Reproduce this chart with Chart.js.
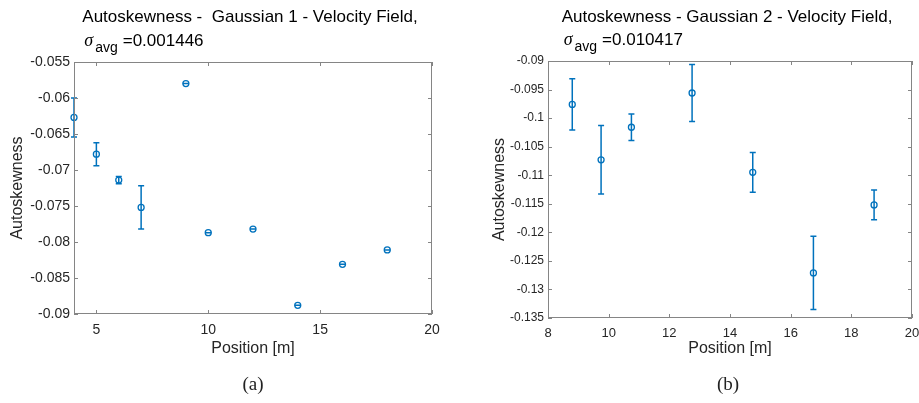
<!DOCTYPE html>
<html>
<head>
<meta charset="utf-8">
<script src="https://cdn.jsdelivr.net/npm/chart.js@4.4.1/dist/chart.umd.min.js"></script>
<style>
    body { margin: 0; background: #fff; width: 919px; height: 403px; position: relative; overflow: hidden; }
    .wrap { position: absolute; top: 0; height: 403px; }
    #wrapA { left: 0; width: 460px; }
    #wrapB { left: 460px; width: 459px; }
    .sub { position: absolute; top: 373px; font: 19px 'Liberation Serif', serif; color: #222; transform: translateX(-50%); }
</style>
</head>
<body>
<div class="wrap" id="wrapA"><canvas id="chartA" width="460" height="403"></canvas></div>
<div class="wrap" id="wrapB"><canvas id="chartB" width="459" height="403"></canvas></div>
<div class="sub" style="left:253px">(a)</div>
<div class="sub" style="left:728px">(b)</div>
<script>
// Данные для графика (a) - Gaussian 1
const posA = [4, 5, 6, 7, 9, 10, 12, 14, 16, 18];
const skewA = [-0.0627, -0.0678, -0.0714, -0.0752, -0.0580, -0.0787, -0.0782, -0.0888, -0.0831, -0.0811];
const errA = [0.0027, 0.0016, 0.0005, 0.0030, 0, 0, 0, 0, 0, 0];
const xTicksA = [5, 10, 15, 20];
const yTicksA = [-0.09, -0.085, -0.08, -0.075, -0.07, -0.065, -0.06, -0.055];

// Данные для графика (b) - Gaussian 2
const posB = [8.8, 9.75, 10.75, 12.75, 14.75, 16.75, 18.75];
const skewB = [-0.0976, -0.1073, -0.1016, -0.0956, -0.1095, -0.1271, -0.1152];
const errB = [0.0045, 0.0060, 0.0023, 0.0050, 0.0035, 0.0064, 0.0026];
const xTicksB = [8, 10, 12, 14, 16, 18, 20];
const yTicksB = [-0.135, -0.13, -0.125, -0.12, -0.115, -0.11, -0.105, -0.1, -0.095, -0.09];

const SANS = '"Liberation Sans", Arial, Helvetica, sans-serif';
const BLUE = '#0072BD';
const TXT = '#262626';

// Заголовок в стиле MATLAB: две строки, sigma с индексом
const matTitle = {
    id: 'matTitle',
    afterDraw(chart, args, o) {
        const ctx = chart.ctx, a = chart.chartArea;
        ctx.save();
        ctx.fillStyle = '#000';
        ctx.textBaseline = 'alphabetic';
        ctx.font = o.size + 'px ' + SANS;
        const w = ctx.measureText(o.line1).width;
        const x0 = (a.left + a.right) / 2 - w / 2 + o.shift;
        ctx.fillText(o.line1, x0, o.y1);
        let x = x0 + 2;
        ctx.font = 'italic ' + (o.size + 1) + 'px "Liberation Serif", serif';
        ctx.fillText('σ', x, o.y2);
        x += ctx.measureText('σ').width + 2;
        ctx.font = Math.round(o.size * 0.8) + 'px ' + SANS;
        ctx.fillText('avg', x, o.y2 + 6);
        x += ctx.measureText('avg').width + 5;
        ctx.font = o.size + 'px ' + SANS;
        ctx.fillText('=' + o.sigma, x, o.y2);
        ctx.restore();
    }
};

// Рамка осей и внутренние засечки
const matBox = {
    id: 'matBox',
    afterDraw(chart) {
        const ctx = chart.ctx, a = chart.chartArea;
        const xs = chart.scales.x, ys = chart.scales.y;
        const L = 4;
        ctx.save();
        ctx.strokeStyle = '#858585';
        ctx.lineWidth = 1;
        ctx.strokeRect(a.left + 0.5, a.top + 0.5, a.right - a.left - 1, a.bottom - a.top - 1);
        ctx.beginPath();
        xs.ticks.forEach(t => {
            const px = Math.round(xs.getPixelForValue(t.value)) + 0.5;
            ctx.moveTo(px, a.bottom); ctx.lineTo(px, a.bottom - L);
            ctx.moveTo(px, a.top); ctx.lineTo(px, a.top + L);
        });
        ys.ticks.forEach(t => {
            const py = Math.round(ys.getPixelForValue(t.value)) + 0.5;
            ctx.moveTo(a.left, py); ctx.lineTo(a.left + L, py);
            ctx.moveTo(a.right, py); ctx.lineTo(a.right - L, py);
        });
        ctx.stroke();
        ctx.restore();
    }
};

// Планки погрешностей
const errBars = {
    id: 'errBars',
    afterDatasetsDraw(chart, args, o) {
        const ctx = chart.ctx, xs = chart.scales.x, ys = chart.scales.y;
        const pts = chart.data.datasets[0].data;
        ctx.save();
        ctx.strokeStyle = BLUE;
        ctx.lineWidth = 1.5;
        ctx.beginPath();
        pts.forEach((p, i) => {
            const px = xs.getPixelForValue(p.x);
            const yHi = ys.getPixelForValue(p.y + o.err[i]);
            const yLo = ys.getPixelForValue(p.y - o.err[i]);
            ctx.moveTo(px, yHi); ctx.lineTo(px, yLo);
            ctx.moveTo(px - 3, yHi); ctx.lineTo(px + 3, yHi);
            ctx.moveTo(px - 3, yLo); ctx.lineTo(px + 3, yLo);
        });
        ctx.stroke();
        ctx.restore();
    }
};

function axes(xMin, xMax, xTicks, yMin, yMax, yTicks, yW, xH, yFont, xFont, yTitlePad) {
    return {
        x: {
            type: 'linear', min: xMin, max: xMax,
            afterBuildTicks: s => { s.ticks = xTicks.map(v => ({ value: v })); },
            afterFit: s => { s.height = xH; s.paddingLeft = 0; s.paddingRight = 0; },
            grid: { display: false, drawTicks: false },
            border: { display: false },
            ticks: { autoSkip: false, maxRotation: 0, color: TXT, padding: 8, font: { family: SANS, size: xFont } },
            title: { display: true, text: 'Position [m]', color: TXT, font: { family: SANS, size: 16 }, padding: { top: 0, bottom: 45 } }
        },
        y: {
            type: 'linear', min: yMin, max: yMax,
            afterBuildTicks: s => { s.ticks = yTicks.map(v => ({ value: v })); },
            afterFit: s => { s.width = yW; s.paddingTop = 0; s.paddingBottom = 0; },
            grid: { display: false, drawTicks: false },
            border: { display: false },
            ticks: { autoSkip: false, color: TXT, padding: 4, font: { family: SANS, size: yFont }, callback: v => String(v) },
            title: { display: true, text: 'Autoskewness', color: TXT, font: { family: SANS, size: 16 }, padding: { top: yTitlePad, bottom: 0 } }
        }
    };
}

new Chart(document.getElementById('chartA').getContext('2d'), {
    type: 'scatter',
    data: {
        datasets: [{
            data: posA.map((x, i) => ({ x: x, y: skewA[i] })),
            borderColor: BLUE,
            backgroundColor: 'rgba(0,0,0,0)',
            pointRadius: 3,
            pointBorderWidth: 1.3,
            clip: false
        }]
    },
    options: {
        responsive: false,
        animation: false,
        layout: { padding: { top: 62, right: 28, left: 0, bottom: 0 } },
        scales: axes(4, 20, xTicksA, -0.09, -0.055, yTicksA, 74, 89, 14, 14, 8),
        plugins: {
            legend: { display: false },
            tooltip: { enabled: false },
            matTitle: { line1: 'Autoskewness -  Gaussian 1 - Velocity Field,', sigma: '0.001446', size: 17, shift: -3, y1: 22, y2: 46 },
            errBars: { err: errA }
        }
    },
    plugins: [matBox, errBars, matTitle]
});

new Chart(document.getElementById('chartB').getContext('2d'), {
    type: 'scatter',
    data: {
        datasets: [{
            data: posB.map((x, i) => ({ x: x, y: skewB[i] })),
            borderColor: BLUE,
            backgroundColor: 'rgba(0,0,0,0)',
            pointRadius: 3,
            pointBorderWidth: 1.3,
            clip: false
        }]
    },
    options: {
        responsive: false,
        animation: false,
        layout: { padding: { top: 61, right: 7, left: 0, bottom: 0 } },
        scales: axes(8, 20, xTicksB, -0.135, -0.09, yTicksB, 88, 85, 12, 13, 30),
        plugins: {
            legend: { display: false },
            tooltip: { enabled: false },
            matTitle: { line1: 'Autoskewness - Gaussian 2 - Velocity Field,', sigma: '0.010417', size: 17, shift: -3, y1: 22, y2: 45 },
            errBars: { err: errB }
        }
    },
    plugins: [matBox, errBars, matTitle]
});
</script>
</body>
</html>
